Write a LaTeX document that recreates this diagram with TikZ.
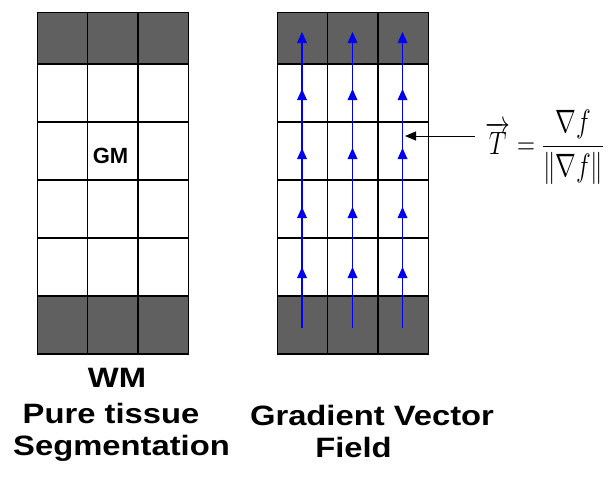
\documentclass[tikz,border=0pt]{standalone}
\usepackage[no-math]{fontspec}
\newfontfamily\labfont{Liberation Sans}
\usetikzlibrary{arrows.meta}
\definecolor{darkcell}{RGB}{96,96,96}
\definecolor{fieldblue}{RGB}{0,0,240}
\begin{document}
\begin{tikzpicture}[x=1pt,y=-1pt,
  gridline/.style={line width=1.4pt, black, line cap=rect},
  fieldline/.style={line width=1.6pt, fieldblue},
  fieldtip/.style={fill=fieldblue},
  biglabel/.style={font=\labfont\bfseries\fontsize{28}{34}\selectfont, anchor=base, inner sep=0pt},
  smalllabel/.style={font=\labfont\bfseries\fontsize{22}{26}\selectfont, anchor=base, inner sep=0pt},
]
\useasboundingbox (0,0) rectangle (615,477);
% grids
\foreach \gx in {37.3, 277.3} {
  \fill[darkcell] (\gx,12.3) rectangle ++(151,51.7);
  \fill[darkcell] (\gx,296) rectangle ++(151,58);
  \foreach \yy in {12.3,64,122,180,238,296,354}
    \draw[gridline] (\gx,\yy) -- ++(151,0);
  \foreach \i in {0,1,2,3}
    \draw[gridline] (\gx+\i*50.33,12.3) -- (\gx+\i*50.33,354);
}
% gradient field lines
\foreach \ax in {302,352.5,402.5} {
  \draw[fieldline] (\ax,327.7) -- (\ax,36);
  \foreach \t in {32,89,148,207,267}
    \fill[fieldtip] (\ax,\t) -- ++(-5,11) -- ++(10,0) -- cycle;
}
% formula and pointer
\node[inner sep=0pt, anchor=base west, font=\Huge] (formula) at (485,154)
  {\scalebox{1}[1.3]{$\displaystyle\overrightarrow{T}=\frac{\nabla f}{\big\|\nabla f\big\|}$}};
\coordinate (tail) at (475,136);
\coordinate (hit) at (405,136);
\draw[line width=1pt,-{Triangle[length=11pt,width=9pt]}] (tail) -- (hit);
% labels
\node[smalllabel] (gm) at (110.5,163) {GM};
\node[biglabel] (wm) at (117,387) {\scalebox{1.17}[1]{WM}};
\node[biglabel] (pure) at (111,423) {\scalebox{1.17}[1]{Pure tissue}};
\node[biglabel] (seg) at (121.5,455) {\scalebox{1.17}[1]{Segmentation}};
\node[biglabel] (grad) at (372,425) {\scalebox{1.17}[1]{Gradient Vector}};
\node[biglabel] (field) at (353.5,457) {\scalebox{1.17}[1]{Field}};
\end{tikzpicture}
\end{document}
